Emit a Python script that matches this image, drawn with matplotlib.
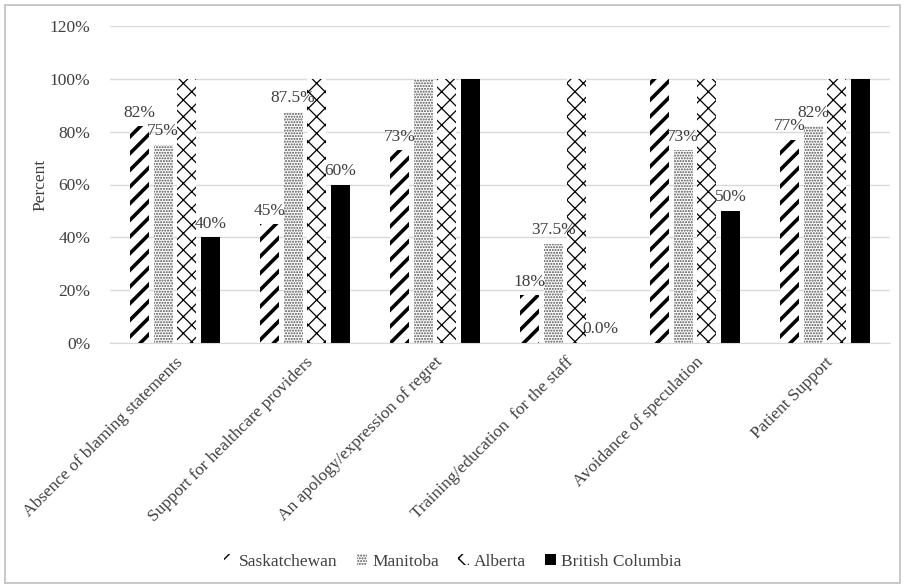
import matplotlib
matplotlib.use("Agg")
import matplotlib.pyplot as plt
import numpy as np

plt.rcParams['font.family'] = ['Liberation Serif', 'DejaVu Serif']

categories = ["Absence of blaming statements", "Support for healthcare providers",
              "An apology/expression of regret", "Training/education  for the staff",
              "Avoidance of speculation", "Patient Support"]
provinces = ["Saskatchewan", "Manitoba", "Alberta", "British Columbia"]
saskatchewan = [82, 45, 73, 18, 100, 77]
manitoba = [75, 87.5, 100, 37.5, 73, 82]
alberta = [100, 100, 100, 100, 100, 100]
british_columbia = [40, 60, 100, 0, 50, 100]
sask_labels = ["82%", "45%", "73%", "18%", "", "77%"]
mani_labels = ["75%", "87.5%", "", "37.5%", "73%", "82%"]
alb_labels = ["", "", "", "", "", ""]
bc_labels = ["40%", "60%", "", "0.0%", "50%", ""]

series = [saskatchewan, manitoba, alberta, british_columbia]
labels = [sask_labels, mani_labels, alb_labels, bc_labels]
styles = [
    dict(facecolor="white", edgecolor="black", hatch="//", linewidth=0),
    dict(facecolor="white", edgecolor="#505050", hatch="......", linewidth=0),
    dict(facecolor="white", edgecolor="black", hatch="xx", linewidth=0),
    dict(facecolor="black", edgecolor="black", linewidth=0),
]
hatch_lw = [2.6, 1.0, 0.9, 1.0]
txt = "#404040"

fig = plt.figure(figsize=(9.05, 5.88), dpi=100)
ax = fig.add_axes([110 / 905, 1 - 343 / 588, 780 / 905, 317 / 588])

x = np.arange(len(categories))
w = 0.146
step = 0.182
for i, (vals, st) in enumerate(zip(series, styles)):
    offs = (i - 1.5) * step
    bars = ax.bar(x + offs, vals, width=w, label=provinces[i], **st)
    for b in bars:
        try:
            b.set_hatch_linewidth(hatch_lw[i])
        except AttributeError:
            pass
    for xi, v, lab in zip(x, vals, labels[i]):
        if lab:
            ax.annotate(lab, (xi + offs, v), xytext=(0, 4),
                        textcoords="offset points", ha="center", va="bottom",
                        fontsize=12.5, color=txt)

ax.set_ylim(0, 120)
ax.set_yticks(range(0, 121, 20))
ax.set_yticklabels([f"{v}%" for v in range(0, 121, 20)], fontsize=12.5, color=txt)
ax.set_xlim(-0.5, 5.5)
ax.set_xticks(x)
ax.set_xticklabels(categories, rotation=45, ha="right", rotation_mode="anchor",
                   fontsize=12.5, color=txt)
ax.set_ylabel("Percent", fontsize=12.5, color=txt, labelpad=1)
ax.yaxis.grid(True, color="#d9d9d9", linewidth=1)
ax.set_axisbelow(True)
for s in ["top", "right", "left"]:
    ax.spines[s].set_visible(False)
ax.spines["bottom"].set_color("#d9d9d9")
ax.tick_params(axis="y", length=0, pad=14)
ax.tick_params(axis="x", length=0, pad=8)

fig.legend(loc="center", bbox_to_anchor=(0.5, 1 - 562 / 588), ncol=4, frameon=False,
           fontsize=12.5, handlelength=0.6, handleheight=0.6, columnspacing=1.1,
           handletextpad=0.3, labelcolor=txt)

border = plt.Rectangle((5 / 905, 5 / 588), 895 / 905, 578 / 588, transform=fig.transFigure,
                       fill=False, edgecolor="#bfbfbf", linewidth=1.2)
fig.patches.append(border)

fig.savefig("out.png", dpi=100)
